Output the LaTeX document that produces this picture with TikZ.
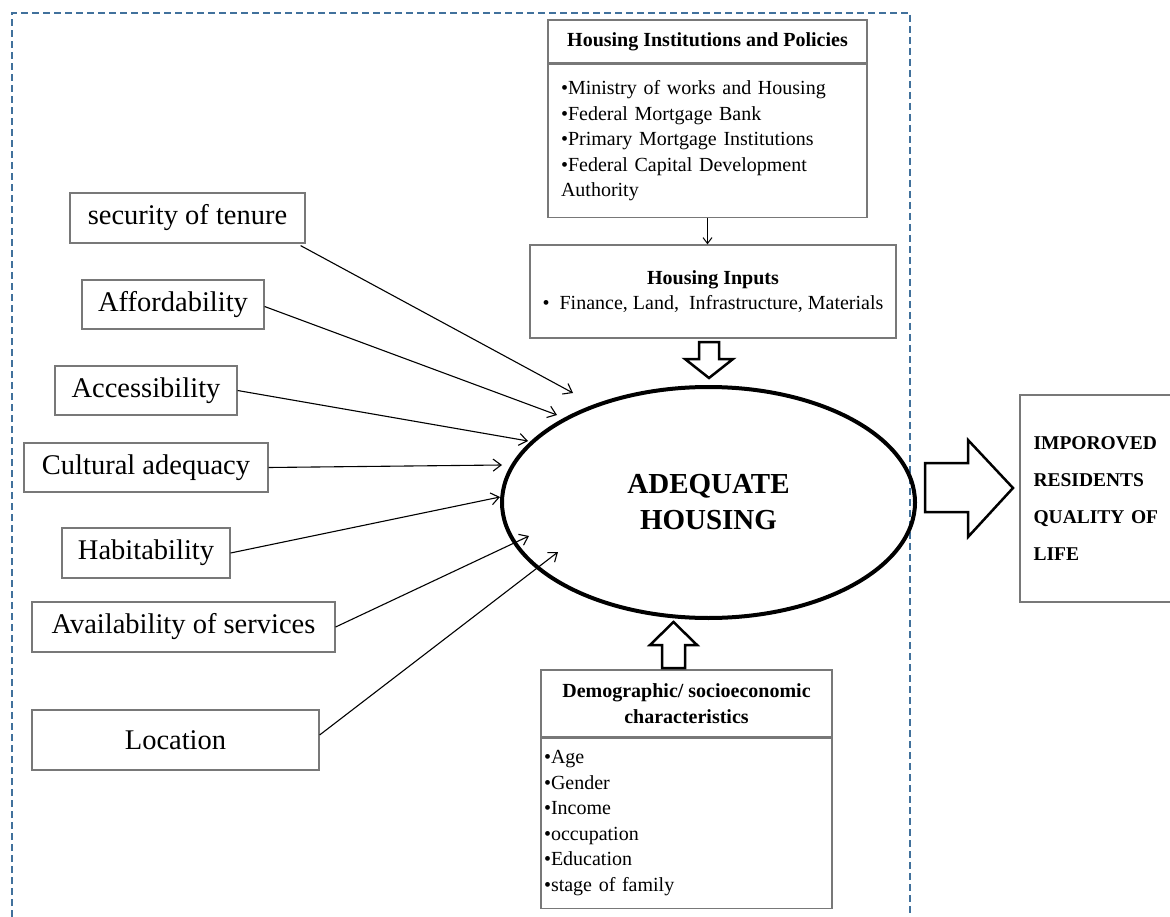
\documentclass[tikz,border=0pt]{standalone}
\usepackage{fontspec}
\setmainfont{Liberation Serif}
\usetikzlibrary{arrows.meta,calc,shapes.geometric}
\definecolor{frameblue}{RGB}{65,113,156}
\definecolor{boxgray}{RGB}{120,120,120}
\tikzset{
  box/.style={draw=boxgray, line width=1.2pt, inner sep=0pt, anchor=center},
  lbl/.style={box, font=\fontsize{28.5}{34}\selectfont},
  small/.style={font=\fontsize{20}{25.5}\selectfont},
  smallb/.style={font=\fontsize{20}{25.5}\selectfont\bfseries},
  conn/.style={line width=1.1pt, -{Straight Barb[length=8pt,width=12pt]}},
  blockarrow/.style={draw=black, line width=2.5pt, fill=white, line join=miter},
}
\begin{document}
\begin{tikzpicture}[x=1pt,y=-1pt]
\useasboundingbox (0,0) rectangle (1170,917);
\fill[white] (0,0) rectangle (1170,917);
% dashed frame
\draw[frameblue, line width=2pt, dash pattern=on 7pt off 4pt] (12,917) -- (12,13) -- (910,13) -- (910,917);

% left boxes
\node[lbl, minimum width=235, minimum height=50] (sec) at (187.5,218) {security of tenure};
\node[lbl, minimum width=182, minimum height=49] (aff) at (173,304.5) {Affordability};
\node[lbl, minimum width=182, minimum height=49] (acc) at (146,390.5) {Accessibility};
\node[lbl, minimum width=244, minimum height=49] (cul) at (146,467.5) {Cultural adequacy};
\node[lbl, minimum width=168, minimum height=50] (hab) at (146,553) {Habitability};
\node[lbl, minimum width=303, minimum height=50] (ava) at (183.5,627) {Availability of services};
\node[lbl, minimum width=287, minimum height=60] (loc) at (175.5,740) {Location};

% ellipse
\node[draw=black, line width=4pt, ellipse, minimum width=413, minimum height=231, inner sep=0pt,
      font=\fontsize{29}{36}\selectfont\bfseries, align=center] (ell) at (708.5,502.5) {ADEQUATE\\HOUSING};

% arrow tips
\coordinate (t1) at (573,393);
\coordinate (t2) at (557,415);
\coordinate (t3) at (528,441);
\coordinate (t4) at (502,465);
\coordinate (t5) at (500,497);
\coordinate (t6) at (529,536);
\coordinate (t7) at (558,552);

\draw[conn] ([xshift=-5pt,yshift=-2pt]sec.south east) -- (t1);
\draw[conn] ([yshift=-2pt]aff.east) -- (t2);
\draw[conn] (acc.east) -- (t3);
\draw[conn] (cul.east) -- (t4);
\draw[conn] (hab.east) -- (t5);
\draw[conn] (ava.east) -- (t6);
\draw[conn] ([yshift=5pt]loc.east) -- (t7);

% top box
\node[box, smallb, minimum width=319, minimum height=43] (hiph) at (707.5,41.5) {Housing Institutions and Policies};
\node[box, small, anchor=north, minimum width=319, minimum height=153, text width=293, align=left] (hipb) at (hiph.south)
  {•Ministry of works and Housing\\•Federal Mortgage Bank\\•Primary Mortgage Institutions\\•Federal Capital Development\\Authority};

% housing inputs
\node[box, small, minimum width=366, minimum height=93, align=center] (hin) at (713,291.5)
  {\textbf{Housing Inputs}\\• \ Finance, Land, \ Infrastructure, Materials};
\draw[line width=1pt, -{Straight Barb[length=6pt,width=9pt]}] (hipb.south) -- (hipb.south |- hin.north);

% demographic box
\node[box, smallb, minimum width=291, minimum height=67, align=center] (demh) at (686.5,703.5)
  {Demographic/ socioeconomic\\characteristics};
\node[box, small, anchor=north, minimum width=291, minimum height=170, text width=285, align=left] (demb) at (demh.south)
  {•Age\\•Gender\\•Income\\•occupation\\•Education\\•stage of family};

% right box
\node[box, minimum width=170, minimum height=207, text width=143, align=left,
      font=\fontsize{19.5}{37}\selectfont\bfseries] (qol) at (1105,498.5)
  {IMPOROVED\\RESIDENTS\\QUALITY OF\\LIFE};

% block arrows
\draw[blockarrow] (699,342) -- (719,342) -- (719,359) -- (733,359) -- (709,378) -- (685,359) -- (699,359) -- cycle;
\draw[blockarrow] (662,668) -- (685,668) -- (685,645) -- (697,645) -- (673.5,622) -- (650,645) -- (662,645) -- cycle;
\draw[blockarrow] (925,463) -- (968,463) -- (968,440) -- (1013,488) -- (968,537) -- (968,512) -- (925,512) -- cycle;
\end{tikzpicture}
\end{document}
